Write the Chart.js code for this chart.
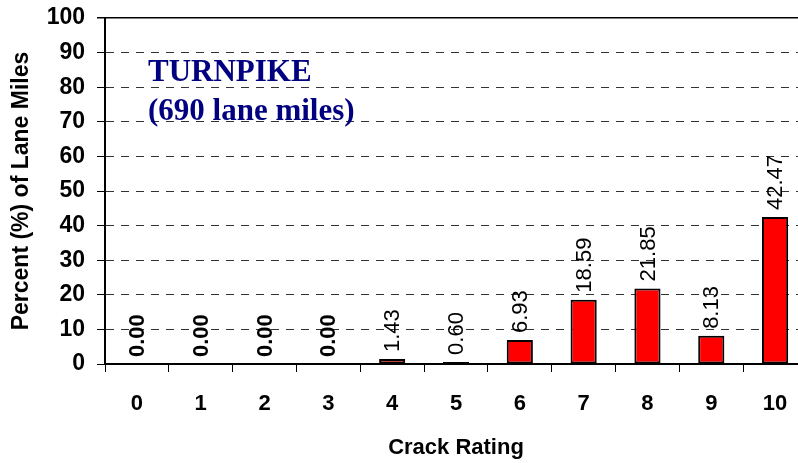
<!DOCTYPE html>
<html>
<head>
<meta charset="utf-8">
<script src="https://cdn.jsdelivr.net/npm/chart.js@4/dist/chart.umd.min.js"></script>
<style>
  html, body { margin: 0; padding: 0; background: #fff; overflow: hidden; }
  #grafico { display: block; }
</style>
</head>
<body>
<canvas id="grafico" width="810" height="463"></canvas>
<script>
// dati
const crackRatings = ['0', '1', '2', '3', '4', '5', '6', '7', '8', '9', '10'];
const percentLaneMiles = [0.00, 0.00, 0.00, 0.00, 1.43, 0.60, 6.93, 18.59, 21.85, 8.13, 42.47];
const titoloRighe = ['TURNPIKE', '(690 lane miles)'];
const yTitle = 'Percent (%) of Lane Miles';
const xTitle = 'Crack Rating';

// etichette ruotate sopra le barre
const etichetteBarre = {
    id: 'etichetteBarre',
    afterDatasetsDraw(chart) {
        const ctx = chart.ctx;
        const meta = chart.getDatasetMeta(0);
        ctx.save();
        ctx.fillStyle = '#000';
        ctx.textAlign = 'left';
        ctx.textBaseline = 'middle';
        meta.data.forEach((bar, i) => {
            const v = percentLaneMiles[i];
            ctx.font = (v === 0 ? 'bold ' : '') + '22px "Liberation Sans", Arial, sans-serif';
            ctx.save();
            ctx.translate(bar.x + 1, bar.y - 7);
            ctx.rotate(-Math.PI / 2);
            ctx.fillText(v.toFixed(2), 0, 0);
            ctx.restore();
        });
        ctx.restore();
    }
};

// scritta TURNPIKE
const scrittaTitolo = {
    id: 'scrittaTitolo',
    afterDraw(chart) {
        const ctx = chart.ctx;
        ctx.save();
        ctx.fillStyle = '#000080';
        ctx.font = 'bold 31px "Liberation Serif", "Times New Roman", serif';
        ctx.textAlign = 'left';
        ctx.textBaseline = 'alphabetic';
        ctx.fillText(titoloRighe[0], 148, 81);
        ctx.fillText(titoloRighe[1], 148, 120);
        ctx.restore();
    }
};

const ctx = document.getElementById('grafico').getContext('2d');
Chart.defaults.font.family = '"Liberation Sans", Arial, sans-serif';
Chart.defaults.color = '#000';

new Chart(ctx, {
    type: 'bar',
    data: {
        labels: crackRatings,
        datasets: [{
            data: percentLaneMiles,
            backgroundColor: '#ff0000',
            borderColor: '#000000',
            borderWidth: 2,
            borderSkipped: false,
            barPercentage: 0.41,
            categoryPercentage: 1.0
        }]
    },
    options: {
        responsive: false,
        animation: false,
        layout: { padding: { top: 18, right: 3, left: 0, bottom: 0 } },
        plugins: {
            legend: { display: false },
            tooltip: { enabled: false }
        },
        scales: {
            x: {
                afterFit: (s) => { s.height = 99; },
                grid: {
                    drawOnChartArea: false,
                    drawTicks: true,
                    tickLength: 8,
                    tickColor: '#000',
                    offset: true
                },
                border: { color: '#000', width: 2 },
                ticks: {
                    color: '#000',
                    padding: 19,
                    font: { size: 22, weight: 'bold' }
                },
                title: {
                    display: true,
                    text: xTitle,
                    color: '#000',
                    font: { size: 22, weight: 'bold' },
                    padding: { top: 0, bottom: 2 }
                }
            },
            y: {
                min: 0,
                max: 100,
                afterFit: (s) => { s.width = 105; s.paddingTop = 0; s.paddingBottom = 0; },
                grid: {
                    color: (c) => c.tick && c.tick.value === 100 ? '#000' : '#333',
                    lineWidth: (c) => c.tick && c.tick.value === 100 ? 1.5 : 1,
                    tickLength: 8,
                    tickColor: '#000'
                },
                border: {
                    color: '#000',
                    width: 2,
                    dash: (c) => c.tick && c.tick.value === 100 ? [] : [8, 7]
                },
                ticks: {
                    stepSize: 10,
                    color: '#000',
                    padding: 12,
                    font: { size: 23, weight: 'bold' }
                },
                title: {
                    display: true,
                    text: yTitle,
                    color: '#000',
                    font: { size: 23, weight: 'bold' },
                    padding: { top: 8, bottom: 0 }
                }
            }
        }
    },
    plugins: [etichetteBarre, scrittaTitolo]
});
</script>
</body>
</html>
